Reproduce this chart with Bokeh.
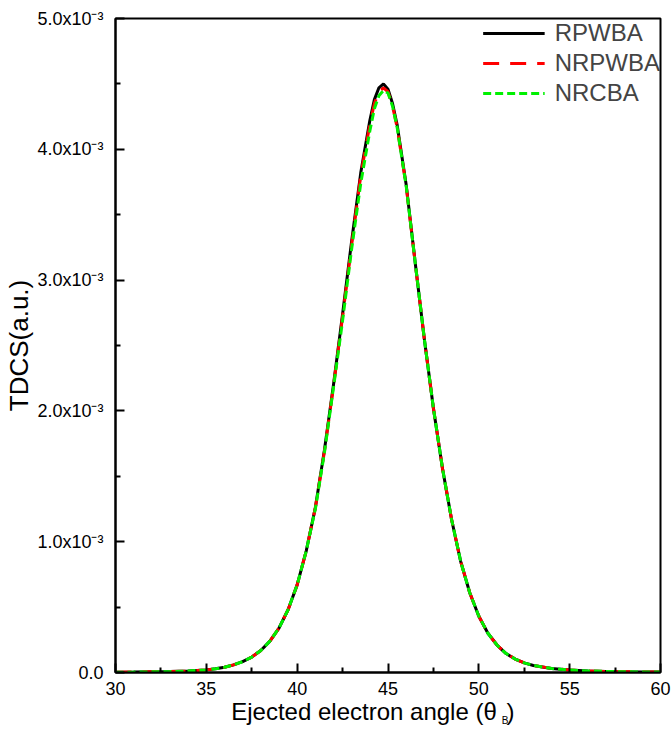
from bokeh.plotting import figure
from bokeh.models import (Range1d, FixedTicker, CustomJSTickFormatter, Legend, LegendItem,
                          LinearAxis)
from bokeh.embed import file_html
from bokeh.resources import INLINE

# Ejected electron angle (deg)
angle = [30, 31, 32, 33, 34, 35, 35.5, 36, 36.5, 37, 37.5, 38, 38.5, 39, 39.5, 40,
         40.5, 41, 41.5, 42, 42.5, 43, 43.5, 44, 44.25, 44.5, 44.75, 45, 45.25, 45.5,
         46, 46.5, 47, 47.5, 48, 48.5, 49, 49.5, 50, 50.5, 51, 51.5, 52, 52.5, 53,
         54, 55, 56, 57, 58, 59, 60]

# TDCS in units of 1e-3 a.u.
rpwba = [0.002, 0.003, 0.005, 0.007, 0.011, 0.020, 0.028, 0.040, 0.058, 0.083, 0.118, 0.168,
         0.24, 0.34, 0.48, 0.67, 0.93, 1.26, 1.70, 2.20, 2.74, 3.30, 3.82, 4.22, 4.38, 4.47,
         4.50, 4.46, 4.35, 4.19, 3.73, 3.13, 2.55, 2.02, 1.56, 1.17, 0.85, 0.61, 0.43, 0.30,
         0.21, 0.145, 0.103, 0.074, 0.054, 0.031, 0.019, 0.012, 0.008, 0.006, 0.004, 0.003]
nrpwba = [0.002, 0.003, 0.005, 0.007, 0.011, 0.020, 0.028, 0.040, 0.058, 0.083, 0.118, 0.168,
          0.24, 0.34, 0.48, 0.67, 0.93, 1.26, 1.69, 2.19, 2.72, 3.27, 3.80, 4.19, 4.35, 4.44,
          4.47, 4.44, 4.33, 4.17, 3.72, 3.13, 2.55, 2.02, 1.56, 1.17, 0.85, 0.61, 0.43, 0.30,
          0.21, 0.145, 0.103, 0.074, 0.054, 0.031, 0.019, 0.012, 0.008, 0.006, 0.004, 0.003]
nrcba = [0.002, 0.003, 0.005, 0.007, 0.011, 0.020, 0.028, 0.040, 0.058, 0.083, 0.118, 0.168,
         0.24, 0.34, 0.48, 0.67, 0.93, 1.25, 1.68, 2.18, 2.69, 3.24, 3.74, 4.14, 4.31, 4.41,
         4.45, 4.43, 4.33, 4.17, 3.72, 3.13, 2.55, 2.02, 1.56, 1.17, 0.85, 0.61, 0.43, 0.30,
         0.21, 0.145, 0.103, 0.074, 0.054, 0.031, 0.019, 0.012, 0.008, 0.006, 0.004, 0.003]

series_names = ["RPWBA", "NRPWBA", "NRCBA"]

x_ticks = [30, 35, 40, 45, 50, 55, 60]
x_minor_ticks = [32.5, 37.5, 42.5, 47.5, 52.5, 57.5]
y_ticks = [0, 1, 2, 3, 4, 5]
y_minor_ticks = [0.5, 1.5, 2.5, 3.5, 4.5]
y_tick_labels = ["0.0", "1.0x10\u207b\u00b3", "2.0x10\u207b\u00b3", "3.0x10\u207b\u00b3",
                 "4.0x10\u207b\u00b3", "5.0x10\u207b\u00b3"]

# x-axis title pieces (main text, closing parenthesis, subscript)
x_title_main = ["Ejected electron angle (\u03b8", ")"]
x_title_sub = ["B"]
y_title = "TDCS(a.u.)"

FONT = "Liberation Sans"

p = figure(width=672, height=729, output_backend="svg", toolbar_location=None,
           x_range=Range1d(30, 60), y_range=Range1d(0, 5),
           min_border_left=115, min_border_right=12, min_border_top=18, min_border_bottom=57)
p.grid.visible = False
p.outline_line_color = "black"
p.outline_line_width = 2
p.background_fill_color = "white"
p.border_fill_color = "white"

for ax in (p.xaxis[0], p.yaxis[0]):
    ax.axis_line_width = 2
    ax.major_tick_line_width = 2
    ax.minor_tick_line_width = 2
    ax.major_tick_in = 9
    ax.major_tick_out = 0
    ax.minor_tick_in = 5
    ax.minor_tick_out = 0
    ax.major_label_text_font = FONT
    ax.major_label_text_font_size = "18px"
    ax.major_label_text_color = "black"
    ax.axis_label_text_font = FONT
    ax.axis_label_text_font_style = "normal"
    ax.axis_label_text_color = "black"

p.xaxis.ticker = FixedTicker(ticks=x_ticks, minor_ticks=x_minor_ticks)
p.yaxis.ticker = FixedTicker(ticks=y_ticks, minor_ticks=y_minor_ticks)
p.xaxis.major_label_standoff = 9
p.yaxis.major_label_standoff = 12
p.yaxis.formatter = CustomJSTickFormatter(args=dict(labels=y_tick_labels),
                                          code="return labels[Math.round(tick)];")
p.yaxis.axis_label = y_title
p.yaxis.axis_label_text_font_size = "26px"
p.yaxis.axis_label_standoff = 0

r1 = p.line(angle, rpwba, line_color="black", line_width=3)
r2 = p.line(angle, nrpwba, line_color="red", line_width=3, line_dash="16 11")
r3 = p.line(angle, nrcba, line_color="#00f000", line_width=3, line_dash="8 4")

legend = Legend(items=[LegendItem(label=series_names[0], renderers=[r1]),
                       LegendItem(label=series_names[1], renderers=[r2]),
                       LegendItem(label=series_names[2], renderers=[r3])],
                location="top_right", border_line_color=None, background_fill_alpha=0,
                label_text_font=FONT, label_text_font_size="24px",
                glyph_width=62, glyph_height=30, label_height=30, label_standoff=10,
                spacing=0, padding=3, margin=0)
p.add_layout(legend)


def title_axis(positions, texts, size, standoff):
    ax = LinearAxis(ticker=FixedTicker(ticks=positions, minor_ticks=[]),
                    formatter=CustomJSTickFormatter(args=dict(labels=texts),
                                                    code="return labels[index];"),
                    axis_line_color=None, major_tick_line_color=None,
                    minor_tick_line_color=None, major_tick_in=0, major_tick_out=0,
                    minor_tick_in=0, minor_tick_out=0,
                    major_label_standoff=standoff, major_label_text_font=FONT,
                    major_label_text_font_size=size, major_label_text_color="black")
    p.add_layout(ax, "below")


# horizontal centres of the title pieces, in axis units
title_axis([43.68, 51.74], x_title_main, "24px", 0)
title_axis([51.44], x_title_sub, "10px", -13)

open("out.html", "w").write(file_html(p, INLINE))
